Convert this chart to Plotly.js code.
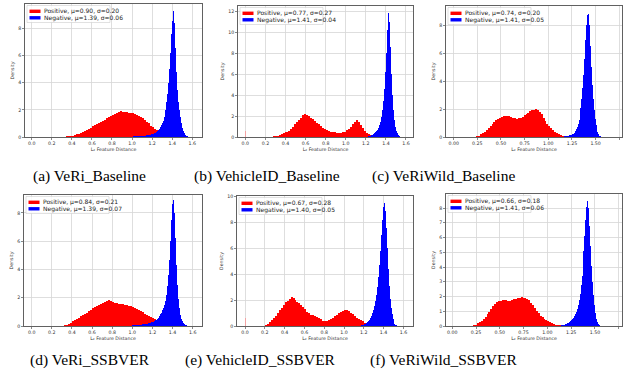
<!DOCTYPE html>
<html><head><meta charset="utf-8">
<script src="https://cdn.plot.ly/plotly-3.0.1.min.js"></script>
<style>html,body{margin:0;padding:0;background:#fff;}#chart{width:623px;height:376px;}</style>
</head><body><div id="chart"></div>
<script>
// ---------------- DATA ----------------
const captions = ["(a) VeRi_Baseline","(b) VehicleID_Baseline","(c) VeRiWild_Baseline",
                  "(d) VeRi_SSBVER","(e) VehicleID_SSBVER","(f) VeRiWild_SSBVER"];
const posMu    = ["0.90","0.77","0.74","0.84","0.67","0.66"];
const posSigma = ["0.20","0.27","0.20","0.21","0.28","0.18"];
const negMu    = ["1.39","1.41","1.41","1.39","1.40","1.41"];
const negSigma = ["0.06","0.04","0.05","0.07","0.05","0.06"];

const posBin = 0.02, negBin = 0.01;
const posStart = [0.30, 0.26, 0.22, 0.30, 0.18, 0.20];
const negStart = [1.00, 1.20, 1.15, 0.995, 1.17, 1.11];

const posA = [0.02,0.03,0.04,0.05,0.06,0.09,0.14,0.19,0.25,0.31,
  0.38,0.45,0.53,0.61,0.70,0.79,0.88,0.95,1.03,1.10,
  1.18,1.28,1.38,1.47,1.56,1.64,1.72,1.80,1.84,1.89,
  1.85,1.87,1.82,1.80,1.76,1.74,1.69,1.63,1.56,1.48,
  1.40,1.28,1.14,1.00,0.84,0.72,0.62,0.52,0.42,0.32,
  0.23,0.16,0.10,0.06,0.03];
const negA = [0.03,0.04,0.04,0.05,0.05,0.06,0.06,0.07,0.07,0.08,
  0.08,0.09,0.10,0.11,0.12,0.13,0.14,0.16,0.18,0.20,
  0.22,0.25,0.28,0.32,0.37,0.43,0.50,0.60,0.72,0.86,
  1.00,1.20,1.50,2.00,2.60,3.20,4.00,5.00,6.20,7.60,
  8.60,9.30,8.40,6.60,4.80,3.50,2.60,2.00,1.50,1.05,
  0.70,0.45,0.28,0.15,0.08,0.04,0.02];

const posB = [0.03,0.05,0.08,0.14,0.20,0.27,0.35,0.45,0.60,0.80,
  1.00,1.20,1.40,1.60,1.85,2.05,2.20,2.05,1.98,1.85,
  1.70,1.55,1.35,1.20,1.05,0.90,0.78,0.70,0.60,0.52,
  0.47,0.44,0.42,0.40,0.42,0.46,0.52,0.62,0.80,1.00,
  1.25,1.45,1.58,1.40,1.10,0.85,0.60,0.42,0.28,0.18,
  0.10,0.05,0.02];
const negB = [0.02,0.04,0.06,0.08,0.11,0.15,0.20,0.27,0.35,0.45,
  0.55,0.70,0.90,1.10,1.45,1.90,2.60,3.40,4.60,6.20,
  8.00,10.20,11.80,11.00,8.60,6.00,4.00,2.60,1.60,1.00,
  0.60,0.35,0.18,0.09,0.04,0.02];

const posC = [0.02,0.05,0.10,0.18,0.28,0.38,0.50,0.63,0.78,0.92,
  1.06,1.20,1.30,1.38,1.43,1.48,1.52,1.52,1.48,1.44,
  1.38,1.34,1.32,1.33,1.36,1.44,1.55,1.65,1.75,1.83,
  1.90,1.94,1.97,1.92,1.80,1.62,1.38,1.15,0.95,0.78,
  0.62,0.50,0.38,0.28,0.20,0.14,0.10,0.06,0.04,0.02];
const negC = [0.02,0.03,0.04,0.05,0.06,
  0.07,0.09,0.11,0.13,0.16,0.20,0.25,0.32,0.42,0.55,
  0.70,0.90,1.20,1.60,2.10,2.70,3.50,4.40,5.60,6.90,
  8.00,8.70,8.80,8.00,6.50,5.00,3.70,2.70,1.90,1.30,
  0.85,0.55,0.33,0.18,0.09,0.04,0.02];

const posD = [0.03,0.06,0.10,0.16,0.24,0.32,0.42,0.52,0.60,0.68,
  0.76,0.85,0.95,1.05,1.15,1.24,1.33,1.42,1.50,1.57,
  1.64,1.72,1.80,1.83,1.80,1.72,1.66,1.60,1.57,1.54,
  1.53,1.52,1.49,1.45,1.40,1.35,1.28,1.20,1.12,1.04,
  0.96,0.87,0.78,0.70,0.62,0.55,0.48,0.42,0.35,0.28,
  0.22,0.15,0.10,0.06,0.03];
const negD = [0.04,0.05,0.05,0.06,0.06,0.07,0.08,0.08,0.09,0.10,
  0.11,0.12,0.13,0.14,0.15,0.17,0.19,0.21,0.23,0.25,
  0.28,0.31,0.35,0.40,0.45,0.52,0.60,0.70,0.82,0.95,
  1.10,1.28,1.50,1.80,2.20,2.80,3.60,4.70,6.00,7.50,
  8.60,8.90,8.00,6.20,4.30,2.90,1.90,1.25,0.80,0.52,
  0.33,0.20,0.12,0.07,0.04,0.02,0.01];

const posE = [0.03,0.08,0.18,0.30,0.45,0.62,0.80,1.00,1.20,1.42,
  1.65,1.82,1.95,2.05,2.22,2.15,2.00,1.85,1.75,1.60,
  1.45,1.30,1.12,0.98,0.88,0.82,0.76,0.68,0.60,0.52,
  0.42,0.36,0.40,0.46,0.55,0.64,0.74,0.86,0.98,1.06,
  1.15,1.22,1.24,1.15,1.03,0.90,0.76,0.65,0.55,0.46,
  0.36,0.27,0.18,0.11,0.05,0.02];
const negE = [0.05,0.07,
  0.09,0.12,0.16,0.21,0.28,0.36,0.46,0.60,0.78,1.00,
  1.25,1.55,1.95,2.40,3.00,3.80,4.70,5.80,7.00,8.20,
  9.20,9.50,8.90,7.60,6.00,4.40,3.10,2.10,1.40,0.90,
  0.55,0.33,0.19,0.10,0.05,0.02,0.01];

const posF = [0.02,0.05,0.10,0.18,0.26,0.36,0.48,0.63,0.80,0.98,
  1.15,1.35,1.52,1.62,1.70,1.72,1.75,1.76,1.73,1.70,
  1.72,1.78,1.82,1.86,1.90,1.92,1.94,1.93,1.90,1.84,
  1.74,1.58,1.40,1.20,1.02,0.86,0.70,0.58,0.47,0.39,
  0.32,0.25,0.19,0.14,0.10,0.07,0.05,0.03,0.02,0.01];
const negF = [0.02,0.02,0.03,0.04,0.05,0.06,0.08,0.10,
  0.12,0.15,0.18,0.22,0.27,0.33,0.40,0.48,0.57,0.68,
  0.80,0.95,1.15,1.40,1.75,2.20,2.75,3.40,4.20,5.10,
  6.10,7.20,8.10,8.50,8.00,6.80,5.40,4.10,3.00,2.10,
  1.40,0.85,0.48,0.25,0.12,0.05,0.02];

// small density spike at distance 0 (VehicleID panels)
const spikeAtZero = [0, 0.6, 0, 0, 0.62, 0];

const xTicksFine   = [0.0,0.2,0.4,0.6,0.8,1.0,1.2,1.4,1.6];
const xTicksCoarse = [0.00,0.25,0.50,0.75,1.00,1.25,1.50,1.75];
const yTicks = [[0,2,4,6,8],[0,2,4,6,8,10,12],[0,2,4,6,8],[0,2,4,6,8],[0,2,4,6,8,10],[0,1,2,3,4,5,6,7,8]];
const xTitle = "L₂ Feature Distance";
const yTitle = "Density";

const posSeries = [posA,posB,posC,posD,posE,posF];
const negSeries = [negA,negB,negC,negD,negE,negF];

// ---------------- LAYOUT GEOMETRY (pixels) ----------------
const W = 623, H = 376;
const boxes = [ // left, right, top, bottom
  [25,202,4,137],[238,413,6,137],[446,622,6,137],
  [24,202,195,326],[237,413,196,326],[446,622,194,326]];
const xRanges = [[-0.067,1.697],[-0.073,1.670],[-0.081,1.779],[-0.0765,1.693],[-0.081,1.697],[-0.066,1.785]];
const yRanges = [[0,9.82],[0,12.48],[0,9.36],[0,9.27],[0,10.05],[0,8.95]];
const captionPos = [[89,175.5],[266.5,175.5],[443.5,175.5],[90,360],[260,360],[443,360]];

const smallFont = {family:'DejaVu Sans', size:4.7, color:'#333'};
const px = p => p / W, py = p => 1 - p / H;

const traces = [], shapes = [], annotations = [];
const layout = {
  width: W, height: H, margin:{l:0,r:0,t:0,b:0},
  paper_bgcolor:'#fff', plot_bgcolor:'#fff',
  barmode:'overlay', bargap:0, bargroupgap:0, showlegend:false,
  shapes, annotations
};

for (let i = 0; i < 6; i++) {
  const n = i + 1, sfx = n === 1 ? '' : String(n);
  const [L,R,T,B] = boxes[i];
  const coarse = (i === 2 || i === 5);
  const xt = coarse ? xTicksCoarse : xTicksFine;

  layout['xaxis'+sfx] = {
    domain:[px(L), px(R)], anchor:'y'+sfx, range:xRanges[i],
    tickvals: xt, ticktext: xt.map(v => v.toFixed(coarse ? 2 : 1)),
    showline:true, mirror:true, linecolor:'#3a3a3a', linewidth:0.8,
    showgrid:true, gridcolor:'#d6d6d6', gridwidth:0.8, zeroline:false,
    ticks:'outside', ticklen:2, tickwidth:0.6, tickcolor:'#3a3a3a',
    tickfont: smallFont, fixedrange:true,
    title:{text:xTitle, font:smallFont, standoff:2}
  };
  layout['yaxis'+sfx] = {
    domain:[py(B), py(T)], anchor:'x'+sfx, range:yRanges[i],
    tickvals: yTicks[i], ticktext: yTicks[i].map(String),
    showline:true, mirror:true, linecolor:'#3a3a3a', linewidth:0.8,
    showgrid:true, gridcolor:'#d6d6d6', gridwidth:0.8, zeroline:false,
    ticks:'outside', ticklen:2, tickwidth:0.6, tickcolor:'#3a3a3a',
    tickfont: smallFont, fixedrange:true,
    title:{text:yTitle, font:smallFont, standoff:3}
  };

  const pos = posSeries[i], neg = negSeries[i];
  traces.push({
    type:'bar', name:'Positive', xaxis:'x'+sfx, yaxis:'y'+sfx,
    x: pos.map((_,k) => posStart[i] + (k + 0.5) * posBin), y: pos, width: posBin,
    marker:{color:'#ff0000', line:{width:0}}
  });
  if (spikeAtZero[i] > 0) {
    traces.push({
      type:'bar', name:'Positive', xaxis:'x'+sfx, yaxis:'y'+sfx,
      x:[0.003], y:[spikeAtZero[i]], width:0.006,
      marker:{color:'#f4a3a3', line:{width:0}}
    });
  }
  traces.push({
    type:'bar', name:'Negative', xaxis:'x'+sfx, yaxis:'y'+sfx,
    x: neg.map((_,k) => negStart[i] + (k + 0.5) * negBin), y: neg, width: negBin,
    marker:{color:'#0000ff', line:{width:0}}
  });

  // legend (drawn manually, matplotlib-style)
  const bx0 = L + 2, bx1 = L + 85, by0 = T + 1.5, by1 = T + 18.5;
  shapes.push({type:'rect', xref:'paper', yref:'paper', layer:'above',
    x0:px(bx0), x1:px(bx1), y0:py(by0), y1:py(by1),
    fillcolor:'rgba(255,255,255,0.85)', line:{color:'#cccccc', width:0.6}});
  const rows = [T + 7.3, T + 13.8];
  const cols = ['#ff0000','#0000ff'];
  const labels = [
    `Positive, μ=${posMu[i]}, σ=${posSigma[i]}`,
    `Negative, μ=${negMu[i]}, σ=${negSigma[i]}`];
  rows.forEach((ry, r) => {
    shapes.push({type:'rect', xref:'paper', yref:'paper', layer:'above',
      x0:px(L + 4.5), x1:px(L + 15.5), y0:py(ry - 1.7), y1:py(ry + 1.7),
      fillcolor:cols[r], line:{width:0}});
    annotations.push({xref:'paper', yref:'paper', x:px(L + 17), y:py(ry),
      xanchor:'left', yanchor:'middle', showarrow:false, text:labels[r],
      font:{family:'DejaVu Sans', size:6, color:'#222'}});
  });

  // caption
  annotations.push({xref:'paper', yref:'paper', x:px(captionPos[i][0]), y:py(captionPos[i][1]),
    xanchor:'center', yanchor:'middle', showarrow:false, text:captions[i],
    font:{family:'Liberation Serif', size:15.5, color:'#000'}});
}

Plotly.newPlot('chart', traces, layout, {staticPlot:true, displayModeBar:false});
</script>
</body></html>
